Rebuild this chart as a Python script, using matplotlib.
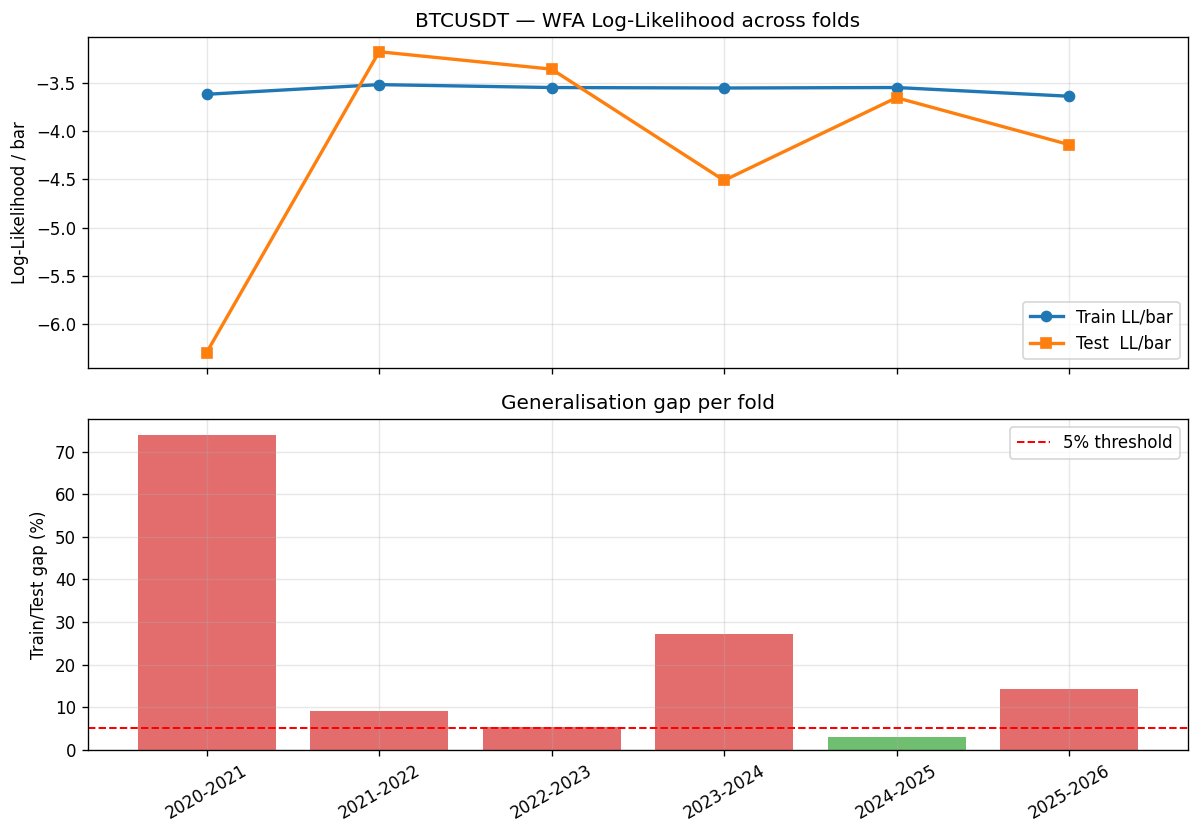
import numpy as np
import matplotlib
matplotlib.use("Agg")
import matplotlib.pyplot as plt

# Fold data
folds = ["2020-2021", "2021-2022", "2022-2023", "2023-2024", "2024-2025", "2025-2026"]
train_ll = [-3.62, -3.52, -3.55, -3.555, -3.55, -3.64]
test_ll = [-6.29, -3.18, -3.36, -4.51, -3.655, -4.14]
gap_pct = [74.0, 9.2, 5.4, 27.1, 3.1, 14.3]
threshold = 5.0

x = np.arange(len(folds))

fig, (ax1, ax2) = plt.subplots(2, 1, figsize=(10, 6.95), dpi=120, sharex=True)

# Log-likelihood per fold
ax1.plot(x, train_ll, marker="o", linewidth=2, markersize=6, color="tab:blue", label="Train LL/bar")
ax1.plot(x, test_ll, marker="s", linewidth=2, markersize=6, color="tab:orange", label="Test  LL/bar")
ax1.set_ylabel("Log-Likelihood / bar")
ax1.set_title("BTCUSDT — WFA Log-Likelihood across folds")
ax1.legend(loc="lower right")
ax1.grid(True, alpha=0.3)

# Gap per fold
colors = ["tab:green" if g < threshold else "tab:red" for g in gap_pct]
ax2.bar(x, gap_pct, color=colors, alpha=0.68, width=0.8)
ax2.axhline(threshold, color="red", linestyle="--", linewidth=1.2, label="5% threshold")
ax2.set_ylabel("Train/Test gap (%)")
ax2.set_title("Generalisation gap per fold")
ax2.set_xticks(x)
ax2.set_xticklabels(folds, rotation=30)
ax2.legend(loc="upper right")
ax2.grid(True, alpha=0.3)

fig.subplots_adjust(left=0.073, right=0.99, top=0.956, bottom=0.101, hspace=0.155)
plt.savefig("out.png")
